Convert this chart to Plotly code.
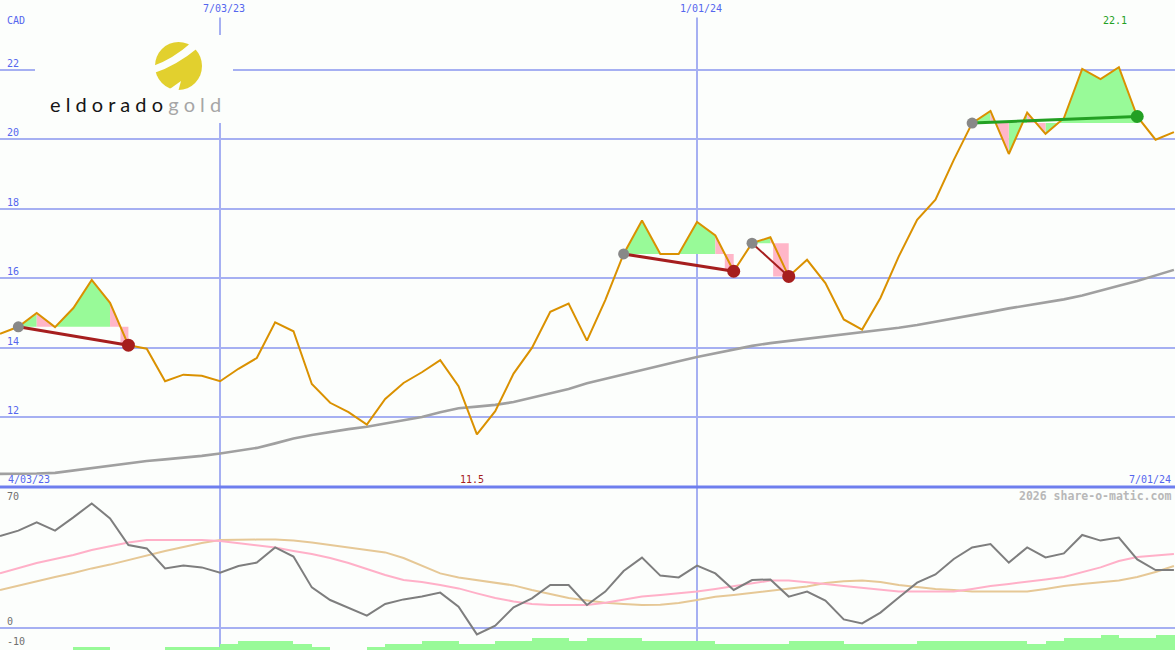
import plotly.graph_objects as go
import pandas as pd

# ---------------- data ----------------
week_dates = pd.date_range("2023-04-10", periods=65, freq="7D")

price = [14.40, 14.60, 15.00, 14.59, 15.14, 15.95, 15.29, 14.07, 13.97, 13.03,
         13.22, 13.19, 13.03, 13.39, 13.70, 14.73, 14.47, 12.95, 12.41, 12.14,
         11.78, 12.52, 12.98, 13.29, 13.64, 12.89, 11.50, 12.17, 13.25, 13.99,
         15.03, 15.27, 14.20, 15.37, 16.70, 17.66, 16.70, 16.70, 17.62, 17.23,
         16.20, 17.01, 17.18, 16.05, 16.53, 15.86, 14.81, 14.52, 15.43, 16.63,
         17.68, 18.26, 19.41, 20.47, 20.82, 19.58, 20.77, 20.16, 20.61, 22.03,
         21.74, 22.08, 20.66, 19.99, 20.21]

moving_avg = [10.36, 10.36, 10.37, 10.39, 10.46, 10.53, 10.60, 10.67, 10.73, 10.78,
              10.82, 10.88, 10.95, 11.02, 11.11, 11.24, 11.38, 11.48, 11.57, 11.65,
              11.72, 11.81, 11.90, 12.00, 12.14, 12.25, 12.30, 12.35, 12.43, 12.55,
              12.68, 12.81, 12.97, 13.10, 13.23, 13.37, 13.50, 13.61, 13.73, 13.84,
              13.95, 14.05, 14.13, 14.19, 14.26, 14.33, 14.39, 14.45, 14.51, 14.57,
              14.65, 14.74, 14.84, 14.94, 15.03, 15.13, 15.21, 15.30, 15.39, 15.50,
              15.63, 15.78, 15.92, 16.08, 16.24]

osc_gray = [46.0, 48.7, 52.8, 48.7, 55.3, 62.3, 54.8, 41.5, 39.8, 29.8,
            31.2, 30.3, 27.7, 31.0, 32.7, 40.3, 35.7, 20.3, 14.0, 10.3,
            6.2, 12.0, 14.3, 15.7, 17.7, 10.7, -3.2, 1.2, 10.3, 14.8,
            21.5, 21.5, 11.5, 18.2, 28.5, 35.2, 26.2, 25.3, 31.2, 27.3,
            19.0, 24.0, 24.3, 15.7, 18.2, 13.7, 4.3, 2.3, 7.7, 15.3,
            22.7, 26.8, 34.5, 40.3, 42.0, 32.7, 40.3, 35.3, 37.3, 46.5,
            43.7, 45.2, 34.3, 29.0, 29.0]

osc_pink = [27.3, 30.0, 32.5, 34.5, 36.5, 39.0, 41.0, 42.7, 44.0, 44.0,
            44.0, 44.0, 43.5, 42.5, 41.3, 40.2, 38.5, 37.0, 35.0, 32.5,
            29.5, 26.5, 24.0, 23.0, 21.5, 19.8, 17.3, 15.0, 13.3, 12.0,
            11.5, 11.5, 11.5, 12.6, 14.0, 15.7, 16.5, 17.3, 18.2, 19.5,
            21.0, 22.5, 23.7, 23.7, 23.0, 22.0, 21.0, 20.0, 19.0, 18.2,
            18.2, 18.2, 18.2, 19.5, 21.0, 22.0, 23.0, 24.3, 25.5, 27.8,
            30.3, 33.5, 35.5, 36.3, 37.0]

osc_tan = [19.0, 21.2, 23.5, 25.5, 27.5, 29.8, 31.7, 34.0, 36.2, 38.5,
           40.5, 42.5, 44.0, 44.2, 44.2, 44.2, 43.8, 42.7, 41.5, 40.5,
           39.2, 37.8, 35.0, 31.0, 27.3, 25.3, 23.9, 22.6, 21.3, 19.0,
           17.0, 15.0, 13.8, 12.6, 12.0, 11.5, 11.6, 12.5, 14.0, 15.6,
           16.5, 17.5, 18.5, 19.6, 20.8, 22.5, 23.4, 23.7, 23.0, 21.5,
           20.5, 19.5, 19.0, 18.2, 18.2, 18.2, 18.2, 19.5, 21.0, 22.0,
           22.8, 23.8, 25.5, 28.0, 31.0]

bar_levels = [0, 0, 0, 0, 1.35, 1.35, 0, 0, 0, 1.35,
              1.35, 1.35, 3, 4.5, 4.5, 4.5, 3, 1.35, 0, 0,
              1.35, 3, 3, 4.5, 4.5, 3, 3, 4.5, 4.5, 6.15,
              6.15, 4.5, 6.15, 6.15, 6.15, 4.5, 4.5, 4.5, 4.5, 3,
              3, 3, 3, 4.5, 4.5, 4.5, 3, 3, 3, 3,
              4.5, 4.5, 4.5, 4.5, 4.5, 4.5, 3, 4.5, 6.15, 6.15,
              7.5, 6.15, 6.15, 7.5, 7.5]

pattern_start = [1, 34, 41, 53]
pattern_end = [7, 40, 43, 62]
pattern_fill = ["gpgggr", "gg-ggr", "gr", "gpgpggggg"]

main_ticks = [12, 14, 16, 18, 20, 22]
grid_dates = ["2023-07-03", "2024-01-01"]
grid_labels = ["7/03/23", "1/01/24"]
low_label, high_label = "11.5", "22.1"
low_index, high_index = 26, 61
unit_label = "CAD"
start_label, end_label = "4/03/23", "7/01/24"
osc_labels = [70, 0, -10]

# ---------------- styling ----------------
W, H = 1175, 650
BG = "#FCFEFC"
GRID = "#A6B0F2"
LABEL_BLUE = "#5566EE"
PRICE_C = "#DA9100"
GREEN_FILL = "#98FA98"
PINK_FILL = "#FFB6C8"
RED = "#A61E1E"
GREEN = "#23A023"
MONO = "DejaVu Sans Mono"

x_start = pd.Timestamp("2023-04-10")
x_end = pd.Timestamp("2024-07-01 10:00")
main_range = [9.983, 24.017]
osc_range = [-11, 70.5]
split = (H - 487) / H


def py(ypix):
    return 1 - ypix / H


def px(xpix):
    return xpix / W


fig = go.Figure()

# ---------------- fills for patterns ----------------
fills = {"g": ([], []), "p": ([], [])}
for s, e, code in zip(pattern_start, pattern_end, pattern_fill):
    base = price[s]
    for k, c in enumerate(code):
        i = s + k
        if c == "-":
            continue
        x0, x1 = week_dates[i], week_dates[i + 1]
        p0, p1 = price[i], price[i + 1]
        if c == "r":
            t = (p0 - base) / (p0 - p1) if p0 > base else 0.0
            xc = x0 + (x1 - x0) * t
            xs = [x0, xc, xc, x1, x1, x0, x0]
            ys = [p0, base, p1, p1, base, base, p0]
            key = "p"
        else:
            xs = [x0, x1, x1, x0, x0]
            ys = [p0, p1, base, base, p0]
            key = c
        fills[key][0].extend(xs + [None])
        fills[key][1].extend(ys + [None])

for key, col in (("g", GREEN_FILL), ("p", PINK_FILL)):
    fig.add_trace(go.Scatter(x=fills[key][0], y=fills[key][1], mode="lines",
                             fill="toself", fillcolor=col, line=dict(width=0),
                             hoverinfo="skip", xaxis="x", yaxis="y"))

# moving average + price
fig.add_trace(go.Scatter(x=week_dates, y=moving_avg, mode="lines",
                         line=dict(color="#A0A0A0", width=2.6), xaxis="x", yaxis="y"))
fig.add_trace(go.Scatter(x=week_dates, y=price, mode="lines",
                         line=dict(color=PRICE_C, width=2), xaxis="x", yaxis="y"))

# pattern lines & markers
for s, e in zip(pattern_start, pattern_end):
    col = GREEN if price[e] > price[s] else RED
    w = 2 if e - s < 4 else 3
    fig.add_trace(go.Scatter(x=[week_dates[s], week_dates[e]], y=[price[s], price[e]],
                             mode="lines", line=dict(color=col, width=w),
                             xaxis="x", yaxis="y"))
    fig.add_trace(go.Scatter(x=[week_dates[s]], y=[price[s]], mode="markers",
                             marker=dict(color="#888888", size=11, line=dict(width=0)),
                             xaxis="x", yaxis="y"))
    fig.add_trace(go.Scatter(x=[week_dates[e]], y=[price[e]], mode="markers",
                             marker=dict(color=col, size=13, line=dict(width=0)),
                             xaxis="x", yaxis="y"))

# ---------------- lower panel ----------------
fig.add_trace(go.Bar(x=week_dates, y=bar_levels, base=osc_range[0],
                     width=7 * 86400000, offset=0,
                     marker=dict(color=GREEN_FILL, line=dict(width=0)),
                     xaxis="x2", yaxis="y2"))
fig.add_trace(go.Scatter(x=week_dates, y=osc_tan, mode="lines",
                         line=dict(color="#E6C896", width=2), xaxis="x2", yaxis="y2"))
fig.add_trace(go.Scatter(x=week_dates, y=osc_pink, mode="lines",
                         line=dict(color="#FFB0C8", width=2), xaxis="x2", yaxis="y2"))
fig.add_trace(go.Scatter(x=week_dates, y=osc_gray, mode="lines",
                         line=dict(color="#7E7E7E", width=2), xaxis="x2", yaxis="y2"))

# ---------------- annotations ----------------
ann = []
ann.append(dict(text=unit_label, x=px(5), y=py(21), xref="paper", yref="paper",
                xanchor="left", yanchor="middle", showarrow=False,
                font=dict(family=MONO, size=10, color=LABEL_BLUE)))
for v in main_ticks:
    ann.append(dict(text=str(v), x=px(5), y=v, xref="paper", yref="y",
                    xanchor="left", yanchor="bottom", yshift=-1, showarrow=False,
                    font=dict(family=MONO, size=10, color=LABEL_BLUE)))
for d, lab in zip(grid_dates, grid_labels):
    ann.append(dict(text=lab, x=d, y=py(9), xref="x", yref="paper", xshift=4,
                    xanchor="center", yanchor="middle", showarrow=False, bgcolor=BG,
                    borderpad=3, font=dict(family=MONO, size=10, color=LABEL_BLUE)))
ann.append(dict(text=start_label, x=px(6), y=py(479), xref="paper", yref="paper",
                xanchor="left", yanchor="middle", showarrow=False,
                font=dict(family=MONO, size=10, color=LABEL_BLUE)))
ann.append(dict(text=end_label, x=px(1173), y=py(479), xref="paper", yref="paper",
                xanchor="right", yanchor="middle", showarrow=False,
                font=dict(family=MONO, size=10, color=LABEL_BLUE)))
ann.append(dict(text=low_label, x=week_dates[low_index], y=py(479), xref="x", yref="paper",
                xshift=-5, xanchor="center", yanchor="middle", showarrow=False,
                font=dict(family=MONO, size=10, color=RED)))
ann.append(dict(text=high_label, x=week_dates[high_index], y=py(21), xref="x", yref="paper",
                xshift=-4, xanchor="center", yanchor="middle", showarrow=False,
                font=dict(family=MONO, size=10, color=GREEN)))
ann.append(dict(text="<b>2026 share-o-matic.com</b>", x=px(1173), y=py(496), xref="paper",
                yref="paper", xanchor="right", yanchor="middle", showarrow=False,
                font=dict(family=MONO, size=11.5, color="#B8B8B8")))
for v in osc_labels:
    ann.append(dict(text=str(v), x=px(5), y=v, xref="paper", yref="y2",
                    xanchor="left", yanchor="bottom", yshift=-1 if v != 70 else -16,
                    showarrow=False, font=dict(family=MONO, size=10, color="#707070")))
# logo text
ann.append(dict(text="e l d o r a d o <span style='color:#A6A6A6'>g o l d</span>",
                x=px(135), y=py(104), xref="paper", yref="paper", xanchor="center",
                yanchor="middle", showarrow=False,
                font=dict(family="Lato", size=20, color="#151515")))


def P(x, y):
    return f"{px(x):.5f},{py(y):.5f}"


shapes = [
    dict(type="line", xref="paper", yref="paper", x0=0, x1=1, y0=split, y1=split,
         line=dict(color="#6E7EEE", width=3), layer="above"),
    dict(type="rect", xref="paper", yref="paper", x0=px(35), x1=px(233),
         y0=py(123), y1=py(35), fillcolor=BG, line=dict(width=0), layer="above"),
    dict(type="circle", xref="paper", yref="paper", x0=px(155), x1=px(202),
         y0=py(90), y1=py(42), fillcolor="#E2D02E", line=dict(width=0), layer="above"),
    dict(type="path", xref="paper", yref="paper",
         path=f"M {P(153,66)} Q {P(173,59)} {P(192,42)} L {P(199,47)} Q {P(176,66)} {P(154,73)} Z",
         fillcolor=BG, line=dict(width=0), layer="above"),
    dict(type="path", xref="paper", yref="paper",
         path=f"M {P(167,91)} L {P(181,81)} L {P(178,92)} Z",
         fillcolor=BG, line=dict(width=0), layer="above"),
]

axis_common = dict(showline=False, zeroline=False, showticklabels=False, ticks="")
fig.update_layout(
    width=W, height=H, margin=dict(l=0, r=0, t=0, b=0),
    paper_bgcolor=BG, plot_bgcolor=BG, showlegend=False, hovermode=False,
    bargap=0,
    xaxis=dict(domain=[0, 1], range=[x_start, x_end], anchor="y", tickvals=grid_dates,
               showgrid=True, gridcolor=GRID, gridwidth=2, **axis_common),
    yaxis=dict(domain=[split, 1], range=main_range, anchor="x", tickvals=main_ticks,
               showgrid=True, gridcolor=GRID, gridwidth=2, **axis_common),
    xaxis2=dict(domain=[0, 1], range=[x_start, x_end], anchor="y2", matches="x",
                tickvals=grid_dates, showgrid=True, gridcolor=GRID, gridwidth=2, **axis_common),
    yaxis2=dict(domain=[0, split], range=osc_range, anchor="x2", tickvals=[0],
                showgrid=True, gridcolor=GRID, gridwidth=2, **axis_common),
    annotations=ann, shapes=shapes,
)

fig.write_html("out.html", config={"displayModeBar": False, "staticPlot": True},
               post_script="document.body.style.margin='0px';document.body.style.overflow='hidden';")
